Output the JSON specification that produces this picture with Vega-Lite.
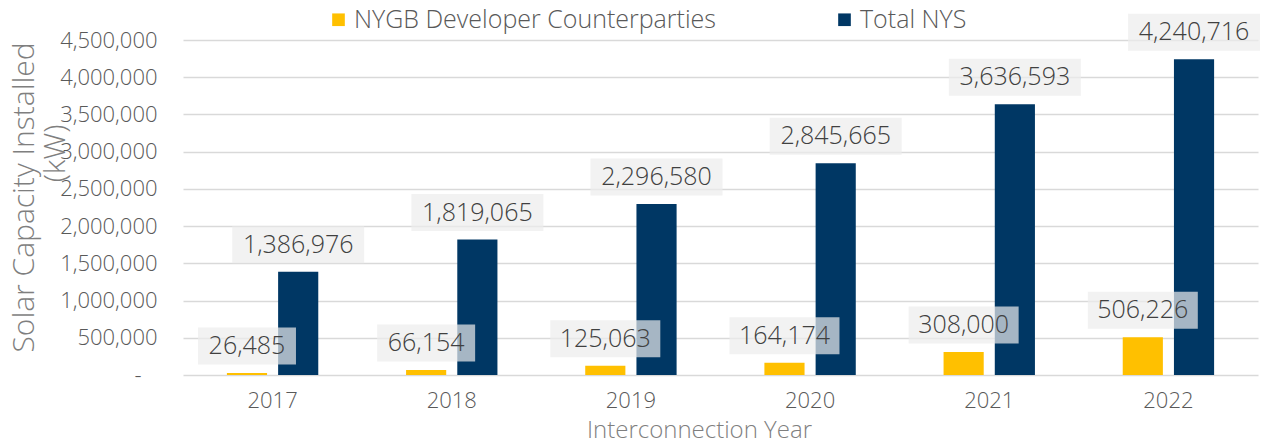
{
  "$schema": "https://vega.github.io/schema/vega-lite/v6.json",
  "width": 1075,
  "height": 335,
  "autosize": "none",
  "padding": {"left": 183, "top": 40, "right": 4, "bottom": 69},
  "background": "white",
  "config": {
    "font": "Open Sans",
    "view": {"stroke": null},
    "axis": {"labelColor": "#595959", "titleColor": "#7f7f7f", "labelFont": "Open Sans", "titleFont": "Open Sans", "titleFontWeight": 300, "labelFontWeight": 300},
    "legend": {"labelFont": "Open Sans"}
  },
  "data": {
    "values": [
      {"Year": "2017", "Series": "NYGB Developer Counterparties", "kW": 26485},
      {"Year": "2017", "Series": "Total NYS", "kW": 1386976},
      {"Year": "2018", "Series": "NYGB Developer Counterparties", "kW": 66154},
      {"Year": "2018", "Series": "Total NYS", "kW": 1819065},
      {"Year": "2019", "Series": "NYGB Developer Counterparties", "kW": 125063},
      {"Year": "2019", "Series": "Total NYS", "kW": 2296580},
      {"Year": "2020", "Series": "NYGB Developer Counterparties", "kW": 164174},
      {"Year": "2020", "Series": "Total NYS", "kW": 2845665},
      {"Year": "2021", "Series": "NYGB Developer Counterparties", "kW": 308000},
      {"Year": "2021", "Series": "Total NYS", "kW": 3636593},
      {"Year": "2022", "Series": "NYGB Developer Counterparties", "kW": 506226},
      {"Year": "2022", "Series": "Total NYS", "kW": 4240716}
    ]
  },
  "encoding": {
    "x": {
      "field": "Year", "type": "nominal",
      "scale": {"paddingInner": 0.49, "paddingOuter": 0.245},
      "axis": {
        "title": "Interconnection Year", "titleFontSize": 24, "titleX": 516, "titleY": 43,
        "labelAngle": 0, "labelFontSize": 22, "labelPadding": 15, "ticks": false, "domain": false, "grid": false
      }
    },
    "xOffset": {"field": "Series", "type": "nominal", "scale": {"domain": ["NYGB Developer Counterparties", "Total NYS"], "paddingInner": 0.216, "paddingOuter": 0}},
    "y": {
      "field": "kW", "type": "quantitative",
      "scale": {"domain": [0, 4500000], "nice": false},
      "axis": {
        "title": ["Solar Capacity Installed", "\u2800\u2800\u2800\u2800(kW)"], "titleFontSize": 30, "titleLineHeight": 31,
        "titleX": -174, "titleY": 157, "titleBaseline": "top", "titleAngle": -90, "titleAlign": "center",
        "values": [0, 500000, 1000000, 1500000, 2000000, 2500000, 3000000, 3500000, 4000000, 4500000],
        "labelExpr": "datum.value === 0 ? '-\u2800' : format(datum.value, ',')",
        "labelFontSize": 22, "ticks": false, "domain": false, "labelPadding": 26,
        "gridColor": "#d9d9d9", "gridWidth": 1.5
      }
    }
  },
  "layer": [
    {
      "mark": {"type": "bar"},
      "encoding": {
        "color": {
          "field": "Series", "type": "nominal",
          "scale": {"domain": ["NYGB Developer Counterparties", "Total NYS"], "range": ["#FFC000", "#003764"]},
          "legend": {
            "title": null, "orient": "none", "direction": "horizontal", "legendX": 143, "legendY": -33,
            "symbolType": "square", "symbolSize": 160, "symbolStrokeWidth": 0, "labelFontSize": 25, "labelFontWeight": 300, "labelColor": "#595959",
            "labelOffset": 3, "columnPadding": 116, "labelLimit": 500
          }
        }
      }
    },
    {
      "mark": {"type": "tick", "thickness": 37, "color": "#ececec", "opacity": 0.7, "yOffset": -27},
      "encoding": {
        "size": {
          "condition": [
            {"test": "datum.Series === 'Total NYS'", "value": 132},
            {"test": "datum.kW >= 100000", "value": 110}
          ],
          "value": 98
        }
      }
    },
    {
      "mark": {"type": "text", "fontSize": 25, "fontWeight": 300, "color": "#404040", "baseline": "middle", "dy": -27, "font": "Open Sans"},
      "encoding": {"text": {"field": "kW", "type": "quantitative", "format": ","}}
    }
  ]
}
